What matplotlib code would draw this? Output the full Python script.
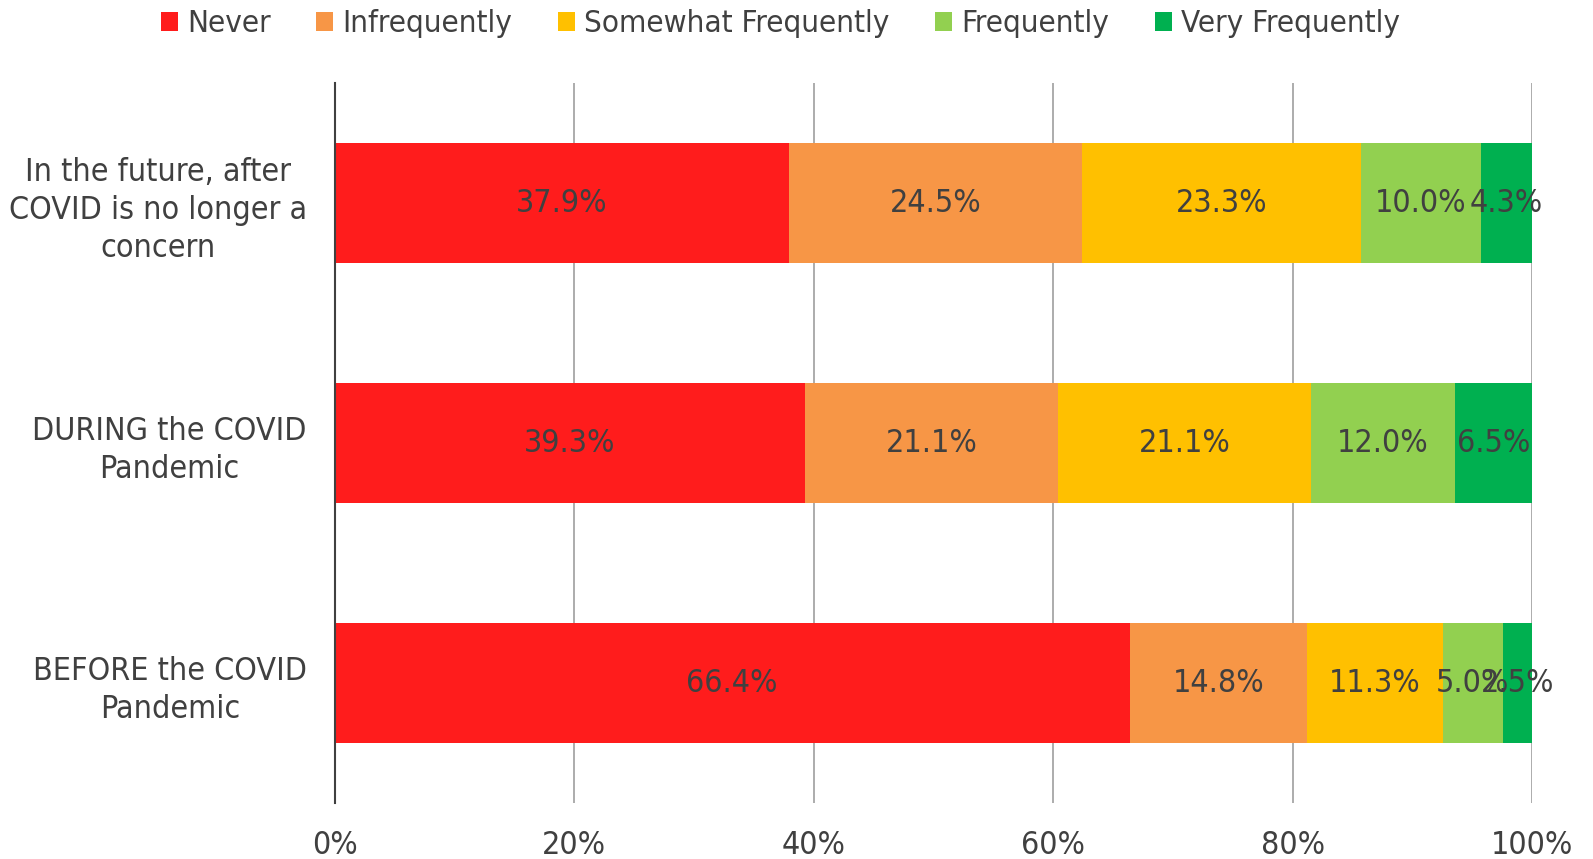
import matplotlib
matplotlib.use("Agg")
import matplotlib.pyplot as plt
import numpy as np

categories = ["BEFORE the COVID\nPandemic",
              "DURING the COVID\nPandemic",
              "In the future, after\nCOVID is no longer a\nconcern"]
series = ["Never", "Infrequently", "Somewhat Frequently", "Frequently", "Very Frequently"]
# rows follow categories (bottom to top), columns follow series
values = np.array([
    [66.4, 14.8, 11.3, 5.0, 2.5],
    [39.3, 21.1, 21.1, 12.0, 6.5],
    [37.9, 24.5, 23.3, 10.0, 4.3],
])
colors = ["#FF1C1C", "#F79646", "#FFC000", "#92D050", "#00B050"]
xticks = [0, 20, 40, 60, 80, 100]
xticklabels = ["0%", "20%", "40%", "60%", "80%", "100%"]

plt.rcParams['font.family'] = ['DejaVu Sans']
plt.rcParams['font.stretch'] = 'condensed'
txt = "#404040"
fs = 23

fig = plt.figure(figsize=(15.93, 8.59), dpi=100)
ax = fig.add_axes([0.210, 0.065, 0.752, 0.838])

y = np.arange(len(categories))
left = np.zeros(len(categories))
for j, name in enumerate(series):
    ax.barh(y, values[:, j], left=left, height=0.5, color=colors[j],
            label=name, zorder=3)
    for i in range(len(categories)):
        ax.text(left[i] + values[i, j] / 2, y[i], f"{values[i, j]:.1f}%",
                ha="center", va="center", fontsize=fs, color=txt, zorder=4)
    left += values[:, j]

ax.set_xlim(0, 100)
ax.set_ylim(-0.5, 2.5)
ax.set_xticks(xticks)
ax.set_xticklabels(xticklabels, fontsize=fs, color=txt)
ax.set_yticks(y)
ax.set_yticklabels(categories, fontsize=fs, color=txt, linespacing=1.3,
                   multialignment="center")
ax.tick_params(axis="x", length=0, pad=19)
ax.tick_params(axis="y", length=0, pad=20)
ax.xaxis.grid(True, color="#A6A6A6", linewidth=1.3, zorder=0)

for spine in ["top", "right", "bottom"]:
    ax.spines[spine].set_visible(False)
ax.spines["left"].set_color("#404040")
ax.spines["left"].set_linewidth(1.5)
ax.spines["left"].set_zorder(5)

leg = fig.legend(loc="upper center", bbox_to_anchor=(0.49, 1.022), ncol=5,
                 frameon=False, fontsize=22.5, handlelength=0.55, handleheight=0.55,
                 handletextpad=0.3, columnspacing=1.45)
for t in leg.get_texts():
    t.set_color(txt)

fig.savefig("out.png", dpi=100)
